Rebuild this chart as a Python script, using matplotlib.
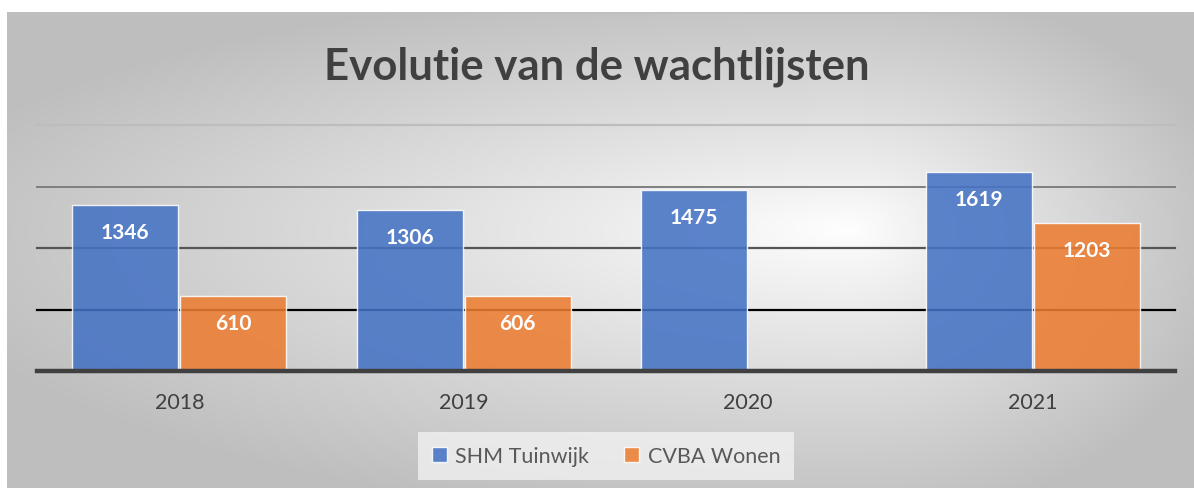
import numpy as np
import matplotlib
matplotlib.use("Agg")
import matplotlib.pyplot as plt
from matplotlib.patches import Patch

years = ["2018", "2019", "2020", "2021"]
shm_tuinwijk = [1346, 1306, 1475, 1619]
cvba_wonen = [610, 606, np.nan, 1203]
series_names = ["SHM Tuinwijk", "CVBA Wonen"]
title = "Evolutie van de wachtlijsten"

W, H = 1194, 489
fig = plt.figure(figsize=(W / 100, H / 100), dpi=100)
fig.patch.set_facecolor("white")

# background panel with radial-ish gradient
px0, py0, px1, py1 = 7, 13, W, H
bg = fig.add_axes([px0 / W, 0, (px1 - px0) / W, 1 - py0 / H], zorder=-5)
nx, ny = px1 - px0, py1 - py0
xs = np.arange(nx) + px0
ys = np.arange(ny) + py0
X, Y = np.meshgrid(xs, ys)
cx, cy = 850, 230
dx = np.where(X < cx, (cx - X) / (cx - px0), (X - cx) / (px1 - cx))
dy = np.where(Y < cy, (cy - Y) / (cy - py0), (Y - cy) / (py1 - cy))
r = np.clip(np.sqrt(dx ** 2 + dy ** 2) / 1.15, 0, 1)
v = (255 - (255 - 190) * r ** 0.9) / 255
img = np.dstack([v, v, v])
bg.imshow(img, aspect="auto", extent=[0, 1, 0, 1], origin="upper")
bg.axhline(1, color="#bfbfbf", lw=2)
bg.set_axis_off()
bg.set_xlim(0, 1)
bg.set_ylim(0, 1)

# main axes
left, right, top, bottom = 37, 1175, 126, 372
ax = fig.add_axes([left / W, 1 - bottom / H, (right - left) / W, (bottom - top) / H])
ax.set_facecolor("none")
for s in ax.spines.values():
    s.set_visible(False)
ax.set_ylim(0, 2000)
ax.set_xlim(-0.5, 3.5)
ax.set_yticks([])

grid_colors = {500: "#000000", 1000: "#555555", 1500: "#7f7f7f", 2000: "#bdbdbd"}
grid_widths = {500: 1.6, 1000: 1.6, 1500: 1.4, 2000: 1.6}
for lvl, c in grid_colors.items():
    ax.axhline(lvl, color=c, lw=grid_widths[lvl], zorder=1, clip_on=False)

x = np.arange(len(years))
w = 0.373
b1 = ax.bar(x - 0.19, shm_tuinwijk, w, color="#4472C4", alpha=0.87,
            edgecolor=(1, 1, 1, 0.5), linewidth=1, zorder=2)
b2 = ax.bar(x + 0.19, cvba_wonen, w, color="#ED7D31", alpha=0.87,
            edgecolor=(1, 1, 1, 0.5), linewidth=1, zorder=2)
ax.axhline(0, color="#404040", lw=3.2, zorder=3, clip_on=False)

for bars, vals in ((b1, shm_tuinwijk), (b2, cvba_wonen)):
    for rect, val in zip(bars, vals):
        if np.isnan(val):
            continue
        ax.annotate(f"{int(val)}", (rect.get_x() + rect.get_width() / 2, val),
                    xytext=(0, -27), textcoords="offset pixels",
                    ha="center", va="center", color="white", fontsize=15,
                    fontweight="bold", family="Lato", zorder=4)

ax.set_xticks(x)
ax.set_xticklabels(years, fontsize=15.5, color="#404040", family="Lato")
ax.tick_params(axis="x", length=0, pad=15)

fig.text(0.5, 1 - 67 / H, title, ha="center", va="center", fontsize=31.5,
         fontweight="bold", color="#404040", family="Lato")

handles = [Patch(facecolor="#4472C4", alpha=0.87, edgecolor=(1, 1, 1, 0.6)),
           Patch(facecolor="#ED7D31", alpha=0.87, edgecolor=(1, 1, 1, 0.6))]
leg = fig.legend(handles, series_names, loc="center", bbox_to_anchor=(606 / W, 1 - 457 / H),
                 ncol=2, frameon=True, handlelength=0.7, handleheight=0.7,
                 handletextpad=0.4, columnspacing=1.6, borderpad=0.65,
                 prop={"family": "Lato", "size": 15.5})
leg.get_frame().set_facecolor("#f4f4f4")
leg.get_frame().set_alpha(0.75)
leg.get_frame().set_edgecolor("none")
leg.get_frame().set_boxstyle("square", pad=0)
for t in leg.get_texts():
    t.set_color("#595959")

fig.savefig("out.png", dpi=100)
